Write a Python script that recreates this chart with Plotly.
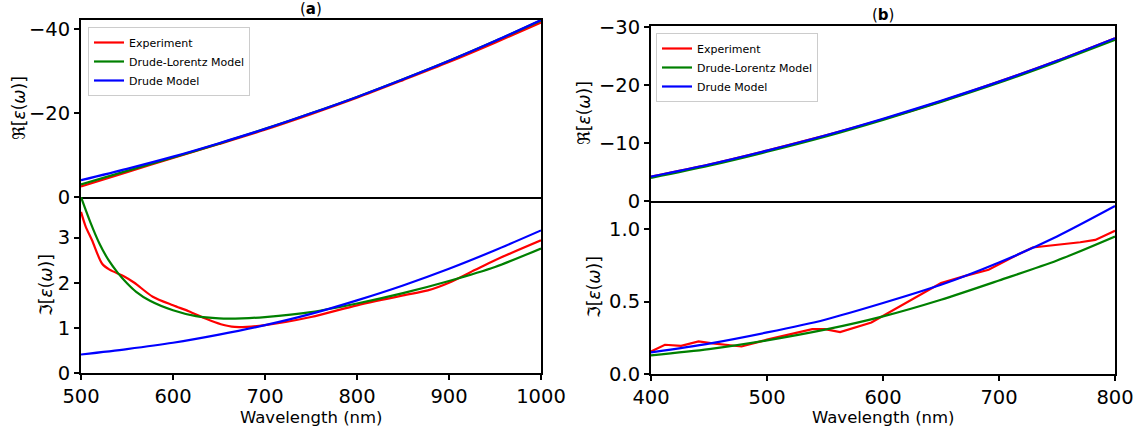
import plotly.graph_objects as go

# ---------------- panel (a): wavelength 500-1000 nm ----------------
wl_a = [500, 550, 600, 650, 700, 750, 800, 850, 900, 950, 1000]
re_exp_a = [-2.5, -5.9, -9.3, -12.6, -16.0, -19.7, -23.6, -27.8, -32.1, -36.7, -41.5]
re_dl_a = [-3.0, -6.2, -9.4, -12.7, -16.2, -19.9, -23.8, -28.0, -32.4, -37.1, -42.0]
re_dr_a = [-4.0, -6.7, -9.6, -12.8, -16.2, -19.9, -23.8, -28.0, -32.4, -37.1, -42.1]

wl_exp_im_a = [500, 505, 512, 523, 531, 547, 558, 578, 600, 617, 636, 652, 667,
               700, 750, 800, 850, 877, 900, 928, 950, 1000]
im_exp_a = [3.57, 3.25, 2.94, 2.42, 2.29, 2.14, 2.00, 1.69, 1.50, 1.37, 1.20, 1.08, 1.02,
            1.06, 1.24, 1.50, 1.72, 1.83, 2.00, 2.28, 2.50, 2.94]
wl_dl_im_a = [500, 510, 520, 530, 540, 550, 560, 575, 600, 625, 650, 675, 700,
              750, 800, 850, 900, 950, 1000]
im_dl_a = [3.90, 3.35, 2.87, 2.50, 2.22, 1.99, 1.80, 1.60, 1.39, 1.26, 1.21, 1.21, 1.24,
           1.35, 1.54, 1.77, 2.04, 2.35, 2.76]
im_dr_a = [0.41, 0.53, 0.67, 0.85, 1.06, 1.31, 1.61, 1.94, 2.31, 2.72, 3.16]

# ---------------- panel (b): wavelength 400-800 nm ----------------
wl_b = [400, 450, 500, 550, 600, 650, 700, 750, 800]
re_exp_b = [-4.2, -6.3, -8.7, -11.3, -14.1, -17.2, -20.6, -24.2, -28.1]
re_dl_b = [-4.0, -6.1, -8.5, -11.1, -14.0, -17.1, -20.4, -24.0, -27.8]
re_dr_b = [-4.2, -6.3, -8.7, -11.3, -14.2, -17.3, -20.6, -24.2, -28.1]

wl_exp_im_b = [400, 412, 426, 441, 453, 478, 500, 525, 539, 550, 563, 590, 607,
               632, 650, 671, 691, 710, 729, 770, 783, 800]
im_exp_b = [0.156, 0.202, 0.195, 0.225, 0.212, 0.190, 0.237, 0.287, 0.310, 0.310,
            0.290, 0.356, 0.432, 0.547, 0.628, 0.678, 0.720, 0.800, 0.874, 0.910,
            0.926, 0.990]
im_dl_b = [0.129, 0.172, 0.232, 0.306, 0.398, 0.513, 0.646, 0.784, 0.950]
im_dr_b = [0.149, 0.210, 0.287, 0.375, 0.490, 0.616, 0.770, 0.950, 1.160]

RED, GREEN, BLUE = "#ff0000", "#008000", "#0000ff"
LW = 2.2
FONT = "DejaVu Sans"

W, H = 1141, 430


def xd(x0, x1):
    return [x0 / W, x1 / W]


def yd(top, bottom):
    return [1 - bottom / H, 1 - top / H]


fig = go.Figure()


def add(x, y, color, name, xa, ya, legend, show, shape="spline"):
    fig.add_trace(go.Scatter(
        x=x, y=y, mode="lines", name=name,
        line=dict(color=color, width=LW, shape=shape, smoothing=0.8),
        xaxis=xa, yaxis=ya, legend=legend, showlegend=show))


# panel (a) real part (top) and imaginary part (bottom)
add(wl_a, re_exp_a, RED, "Experiment", "x", "y", "legend", True)
add(wl_a, re_dl_a, GREEN, "Drude-Lorentz Model", "x", "y", "legend", True)
add(wl_a, re_dr_a, BLUE, "Drude Model", "x", "y", "legend", True)
add(wl_exp_im_a, im_exp_a, RED, "Experiment", "x2", "y2", "legend", False)
add(wl_dl_im_a, im_dl_a, GREEN, "Drude-Lorentz Model", "x2", "y2", "legend", False)
add(wl_a, im_dr_a, BLUE, "Drude Model", "x2", "y2", "legend", False)

# panel (b)
add(wl_b, re_exp_b, RED, "Experiment", "x3", "y3", "legend2", True)
add(wl_b, re_dl_b, GREEN, "Drude-Lorentz Model", "x3", "y3", "legend2", True)
add(wl_b, re_dr_b, BLUE, "Drude Model", "x3", "y3", "legend2", True)
add(wl_exp_im_b, im_exp_b, RED, "Experiment", "x4", "y4", "legend2", False, shape="linear")
add(wl_b, im_dl_b, GREEN, "Drude-Lorentz Model", "x4", "y4", "legend2", False)
add(wl_b, im_dr_b, BLUE, "Drude Model", "x4", "y4", "legend2", False)

axis_common = dict(showline=True, linecolor="black", linewidth=2,
                   showgrid=False, zeroline=False, ticklen=5,
                   tickwidth=1.5, tickcolor="black", automargin=False,
                   tickfont=dict(family=FONT, size=19.5, color="black"))

# upper x axes carry the full frame top/bottom; lower x axes only draw the bottom edge
top_x = dict(showticklabels=False, ticks="", mirror=True, **axis_common)
bot_x = dict(ticks="outside", mirror=False, **axis_common)
y_ax = dict(ticks="outside", mirror=True, **axis_common)

legend_style = dict(xanchor="left", yanchor="top", bgcolor="white",
                    bordercolor="#cccccc", borderwidth=1,
                    font=dict(family=FONT, size=11, color="black"),
                    tracegroupgap=0, itemwidth=30)

RE_LABEL = "ℜ[<i>ε</i>(<i>ω</i>)]"
IM_LABEL = "ℑ[<i>ε</i>(<i>ω</i>)]"
WL_LABEL = "Wavelength (nm)"


def label(text, px, py, size, angle=0):
    return dict(text=text, x=px / W, y=1 - py / H, xref="paper", yref="paper",
                showarrow=False, textangle=angle,
                font=dict(family=FONT, size=size, color="black"),
                xanchor="center", yanchor="middle")


annotations = [
    # panel titles
    label("(<b>a</b>)", 311, 9, 15),
    label("(<b>b</b>)", 883, 15, 15),
    # y-axis titles
    label(RE_LABEL, 19, 108, 17, angle=-90),
    label(IM_LABEL, 46, 285, 17, angle=-90),
    label(RE_LABEL, 584, 113, 17, angle=-90),
    label(IM_LABEL, 594, 287, 17, angle=-90),
    # x-axis titles
    label(WL_LABEL, 311, 417, 16.5),
    label(WL_LABEL, 883, 417, 16.5),
]

fig.update_layout(
    width=W, height=H,
    margin=dict(l=0, r=0, t=0, b=0, autoexpand=False),
    paper_bgcolor="white", plot_bgcolor="white",
    font=dict(family=FONT, color="black"),
    # panel (a)
    xaxis=dict(domain=xd(81, 541), anchor="y", range=[500, 1000], **top_x),
    yaxis=dict(domain=yd(20, 197), anchor="x", range=[0, -42.1], tickvals=[0, -20, -40], **y_ax),
    xaxis2=dict(domain=xd(81, 541), anchor="y2", range=[500, 1000],
                tickvals=[500, 600, 700, 800, 900, 1000], **bot_x),
    yaxis2=dict(domain=yd(197, 373), anchor="x2", range=[0, 3.9], tickvals=[0, 1, 2, 3], **y_ax),
    # panel (b)
    xaxis3=dict(domain=xd(651, 1115), anchor="y3", range=[400, 800], **top_x),
    yaxis3=dict(domain=yd(26, 201), anchor="x3", range=[0, -30.2],
                tickvals=[0, -10, -20, -30], **y_ax),
    xaxis4=dict(domain=xd(651, 1115), anchor="y4", range=[400, 800],
                tickvals=[400, 500, 600, 700, 800], **bot_x),
    yaxis4=dict(domain=yd(201, 374), anchor="x4", range=[0, 1.195], tickvals=[0, 0.5, 1.0],
                tickformat=".1f", **y_ax),
    legend=dict(x=88 / W, y=1 - 27 / H, **legend_style),
    legend2=dict(x=656 / W, y=1 - 33 / H, **legend_style),
    annotations=annotations,
)

fig.write_html("out.html")
